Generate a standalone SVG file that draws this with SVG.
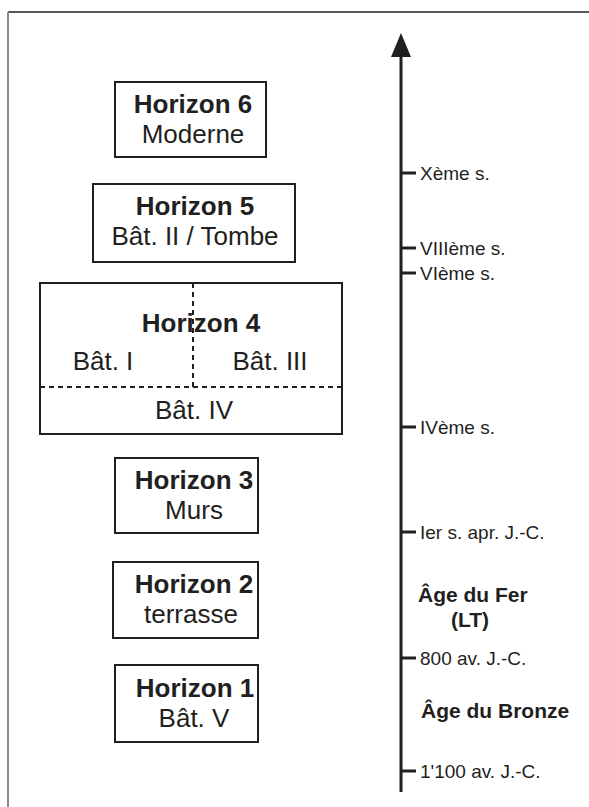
<svg xmlns="http://www.w3.org/2000/svg" width="589" height="807" viewBox="0 0 589 807">
<style>
.box{fill:#fff;stroke:#231f20;stroke-width:2}
.dash{fill:none;stroke:#231f20;stroke-width:2;stroke-dasharray:5 4}
.b{font-family:"Liberation Sans",Arial,sans-serif;font-weight:bold;font-size:26px;fill:#231f20;text-anchor:middle}
.r{font-family:"Liberation Sans",Arial,sans-serif;font-size:26px;fill:#231f20;text-anchor:middle}
.t{font-family:"Liberation Sans",Arial,sans-serif;font-size:19px;fill:#231f20}
.e{font-family:"Liberation Sans",Arial,sans-serif;font-weight:bold;font-size:21px;fill:#231f20}
.tick{stroke:#231f20;stroke-width:3}
</style>
<defs>
<marker id="arr" viewBox="0 0 24 20" refX="12" refY="10" markerWidth="24" markerHeight="20" markerUnits="userSpaceOnUse" orient="auto">
<path d="M0,0 L24,10 L0,20 Z" fill="#231f20"/>
</marker>
</defs>
<rect width="589" height="807" fill="#fff"/>
<line x1="8" y1="12" x2="589" y2="12" stroke="#231f20" stroke-width="1.5"/>
<line x1="8" y1="12" x2="8" y2="807" stroke="#8a8a8a" stroke-width="2"/>

<g id="horizon6">
<rect class="box" x="115" y="82" width="151" height="75"/>
<text class="b" x="193" y="113">Horizon 6</text>
<text class="r" x="193" y="143">Moderne</text>
</g>
<g id="horizon5">
<rect class="box" x="93" y="184" width="202" height="78"/>
<text class="b" x="195" y="215">Horizon 5</text>
<text class="r" x="195" y="245">Bât. II / Tombe</text>
</g>
<g id="horizon4">
<rect class="box" x="40" y="283" width="302" height="151"/>
<line class="dash" x1="193" y1="283" x2="193" y2="387"/>
<line class="dash" x1="40" y1="387" x2="342" y2="387"/>
<text class="b" x="201" y="332">Horizon 4</text>
<text class="r" x="103" y="370">Bât. I</text>
<text class="r" x="270" y="370">Bât. III</text>
<text class="r" x="194" y="419">Bât. IV</text>
</g>
<g id="horizon3">
<rect class="box" x="115" y="458" width="143" height="75"/>
<text class="b" x="194" y="489">Horizon 3</text>
<text class="r" x="194" y="519">Murs</text>
</g>
<g id="horizon2">
<rect class="box" x="113" y="562" width="145" height="76"/>
<text class="b" x="194" y="593">Horizon 2</text>
<text class="r" x="191" y="623">terrasse</text>
</g>
<g id="horizon1">
<rect class="box" x="115" y="665" width="143" height="77"/>
<text class="b" x="195" y="697">Horizon 1</text>
<text class="r" x="194" y="727">Bât. V</text>
</g>

<g id="connectors">
<line x1="401" y1="792" x2="401" y2="45" stroke="#231f20" stroke-width="3" marker-end="url(#arr)"/>
<line class="tick" x1="401" y1="173" x2="416" y2="173"/>
<line class="tick" x1="401" y1="248" x2="416" y2="248"/>
<line class="tick" x1="401" y1="273" x2="416" y2="273"/>
<line class="tick" x1="401" y1="427" x2="416" y2="427"/>
<line class="tick" x1="401" y1="532" x2="416" y2="532"/>
<line class="tick" x1="401" y1="658" x2="416" y2="658"/>
<line class="tick" x1="401" y1="771" x2="416" y2="771"/>
</g>

<g id="timeline-labels">
<text class="t" x="420" y="180">Xème s.</text>
<text class="t" x="420" y="255">VIIIème s.</text>
<text class="t" x="420" y="280">VIème s.</text>
<text class="t" x="420" y="434">IVème s.</text>
<text class="t" x="420" y="539">Ier s. apr. J.-C.</text>
<text class="e" x="418" y="602">Âge du Fer</text>
<text class="e" x="451" y="627">(LT)</text>
<text class="t" x="420" y="665">800 av. J.-C.</text>
<text class="e" x="421" y="718">Âge du Bronze</text>
<text class="t" x="420" y="778">1'100 av. J.-C.</text>
</g>
</svg>
